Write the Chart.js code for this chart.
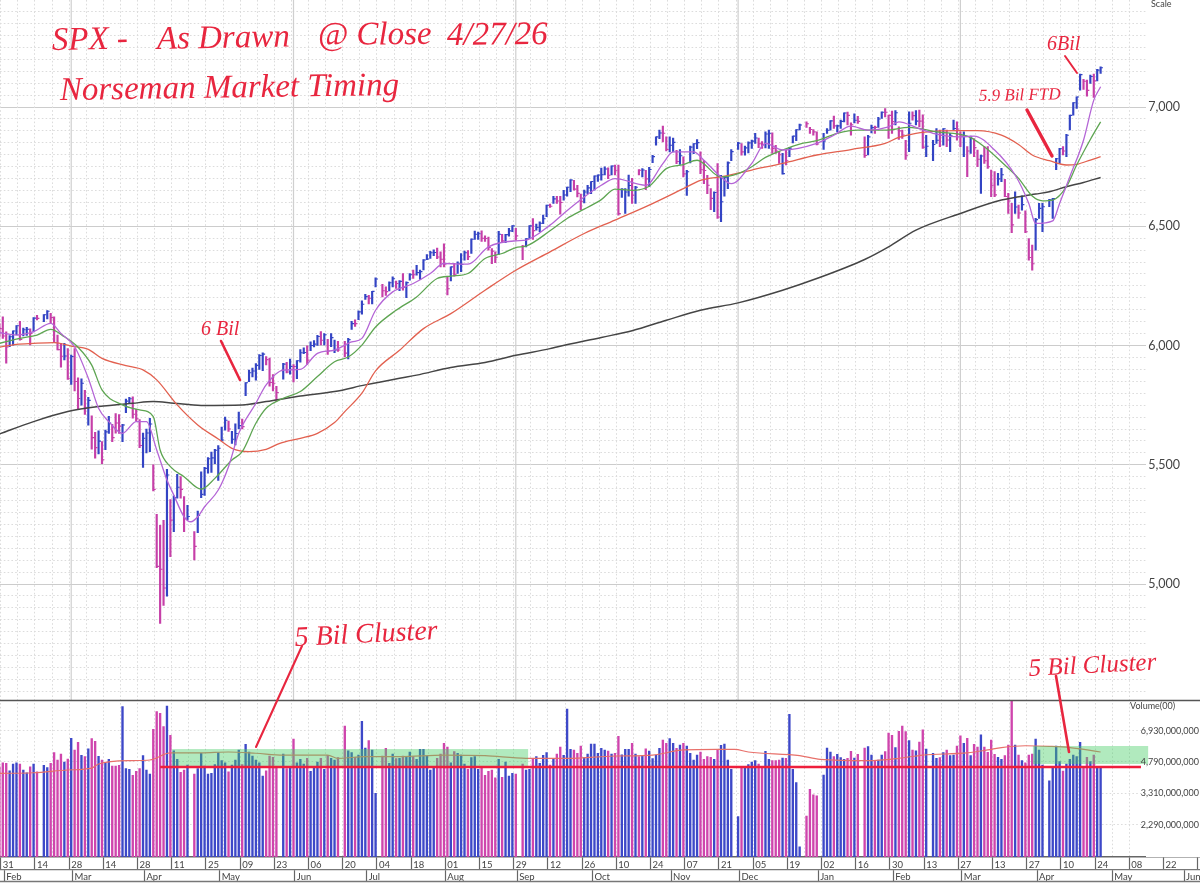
<!DOCTYPE html>
<html><head><meta charset="utf-8">
<style>html,body{margin:0;padding:0;background:#fff;overflow:hidden}#w{position:absolute;left:0;top:0;width:1200px;height:886px}canvas{display:block}</style>
<script src="https://cdn.jsdelivr.net/npm/chart.js@4/dist/chart.umd.min.js"></script>
</head><body><div id="w"><canvas id="c" width="1200" height="886"></canvas></div>
<script>
// every array below starts at slot -1 (30 Jan 2025); one slot per weekday, null on market holidays
const firstSlot=-1;
const highs=[
6090,6120,6058,6042,6062,6084,6101,6073,6076,6070,
6117,6127,null,6130,6147,6135,6120,6044,6009,6009,
5987,5960,5987,5865,5860,5812,5783,5705,5636,5642,
5597,5645,5703,5670,5715,5711,5670,5775,5783,5785,
5732,5690,5633,5650,5695,5500,5292,5246,5267,5481,
5354,5370,5460,5450,5367,5330,null,5220,5306,5470,
5489,5530,5553,5565,5581,5658,5700,5683,5640,5672,
5721,5692,5845,5897,5906,5924,5962,5969,5954,5947,
5878,5829,null,5925,5930,5943,5920,5937,5983,5990,
5999,6016,6021,6043,6059,6050,6026,6050,6023,6018,
null,6018,6030,6101,6108,6146,6187,6215,6211,6227,
6284,null,6257,6246,6267,6288,6270,6272,6302,6267,
6302,6316,6336,6316,6360,6381,6395,6401,6409,6393,
6427,6288,6330,6345,6351,6386,6396,6398,6448,6480,
6476,6481,6460,6455,6407,6393,6479,6466,6466,6491,
6503,6491,null,6420,6449,6503,6532,6509,6519,6547,
6589,6593,6626,6626,6626,6651,6665,6696,6693,6672,
6635,6652,6672,6688,6712,6716,6744,6749,6745,6754,
6757,6757,6658,6658,6715,6701,6668,6738,6742,6735,
6747,6798,6875,6903,6920,6875,6875,6870,6819,6822,
6791,6735,6836,6847,6864,6812,6777,6714,6658,6645,
6763,6714,6707,6770,6822,null,6852,6847,6836,6854,
6862,6890,6870,6855,6896,6904,6892,6840,6813,6806,
6820,6831,6878,6906,6929,null,6938,6915,6906,6896,
null,6890,6910,6943,6962,6925,6945,6976,6979,6934,
6972,6961,null,6875,6882,6925,6920,6957,6980,6994,
6966,6983,6985,6917,6903,6861,6980,6980,6985,6987,
6967,6882,null,6861,6910,6903,6910,6903,6890,6945,
6938,6896,6896,6834,6878,6868,6820,6799,6834,6834,
6736,6729,6722,6743,6697,6638,6596,6645,6589,6628,
6565,6449,6421,6533,6596,6596,null,6613,6617,6785,
6827,6834,6886,6966,7019,7043,7138,7116,7113,7134,
7138,7158,7169];
const lows=[
6035,6030,5926,5995,6002,6046,6022,6040,6042,6003,
6057,6107,null,6100,6112,6093,6012,5982,5909,5940,
5858,5837,5810,5732,5750,5711,5666,5565,5528,5546,
5505,5563,5632,5597,5633,5632,5597,5718,5758,5695,
5683,5572,5489,5550,5555,5390,5069,4835,4910,4949,
5115,5220,5360,5360,5220,5270,null,5101,5215,5362,
5371,5465,5468,5505,5434,5600,5645,5640,5590,5583,
5650,5650,5790,5849,5868,5855,5900,5895,5919,5830,
5810,5767,null,5859,5885,5880,5847,5861,5930,5966,
5921,5978,5994,6000,6003,6003,5963,5995,5970,5975,
null,5952,5944,6068,6080,6108,6132,6193,6175,6175,
6246,null,6204,6210,6229,6246,6240,6230,6232,6201,
6274,6281,6295,6277,6317,6360,6365,6377,6364,6330,
6330,6212,6271,6291,6302,6310,6358,6360,6386,6445,
6445,6437,6437,6400,6343,6347,6382,6432,6431,6459,
6477,6442,null,6360,6414,6449,6445,6484,6477,6511,
6540,6579,6596,6596,6551,6610,6626,6645,6652,6623,
6570,6598,6637,6637,6652,6688,6693,6715,6700,6715,
6716,6547,6621,6554,6626,6596,6596,6716,6707,6654,
6666,6767,6840,6868,6854,6816,6812,6812,6763,6760,
6707,6630,6766,6805,6826,6721,6679,6637,6570,6561,
6533,6519,6626,6658,6775,null,6822,6798,6798,6808,
6827,6848,6830,6827,6829,6827,6806,6806,6764,6719,
6757,6792,6850,6859,6904,null,6915,6890,6882,6841,
null,6822,6890,6903,6910,6896,6910,6938,6925,6882,
6934,6931,null,6789,6799,6892,6890,6915,6952,6959,
6869,6890,6925,6864,6869,6780,6813,6945,6925,6917,
6827,6792,null,6775,6848,6834,6840,6834,6813,6903,
6861,6834,6792,6708,6806,6792,6750,6638,6764,6743,
6624,6624,6673,6687,6624,6554,6473,6554,6533,6568,
6473,6358,6316,6400,6533,6477,null,6582,6533,6738,
6764,6799,6792,6904,6966,6994,7071,7074,7046,7099,
7040,7110,7141];
const closes=[
6071,6040,5994,6037,6061,6083,6026,6066,6068,6051,
6115,6114,null,6129,6144,6117,6013,5983,5955,5956,
5861,5954,5849,5778,5842,5738,5770,5614,5572,5599,
5521,5638,5675,5614,5675,5662,5667,5767,5777,5712,
5693,5581,5611,5633,5671,5397,5074,5062,4983,5457,
5268,5363,5406,5397,5276,5283,null,5158,5287,5376,
5485,5525,5529,5561,5569,5604,5687,5650,5607,5631,
5664,5660,5844,5886,5893,5917,5958,5964,5941,5845,
5842,5803,null,5922,5889,5912,5912,5936,5970,5971,
5939,6000,6006,6038,6022,6045,5977,6033,5982,5981,
null,5968,6025,6092,6092,6141,6173,6205,6198,6227,
6279,null,6230,6226,6263,6280,6260,6269,6244,6264,
6297,6297,6306,6310,6359,6363,6389,6390,6371,6362,
6339,6238,6330,6299,6345,6340,6389,6373,6446,6467,
6469,6450,6449,6411,6396,6370,6467,6439,6465,6481,
6502,6460,null,6416,6448,6502,6482,6495,6513,6532,
6588,6584,6615,6606,6600,6631,6664,6694,6656,6638,
6605,6644,6661,6688,6711,6715,6716,6740,6714,6753,
6735,6553,6655,6644,6671,6630,6664,6735,6736,6699,
6738,6792,6875,6891,6890,6822,6840,6852,6772,6796,
6720,6729,6832,6846,6851,6737,6734,6672,6617,6642,
6539,6603,6705,6766,6813,null,6849,6812,6829,6850,
6857,6870,6846,6841,6887,6890,6827,6816,6800,6721,
6775,6828,6878,6905,6925,null,6930,6906,6896,6845,
null,6858,6903,6942,6921,6921,6940,6975,6965,6926,
6945,6940,null,6797,6875,6914,6915,6950,6978,6978,
6965,6939,6976,6900,6883,6798,6932,6964,6941,6941,
6832,6836,null,6843,6861,6881,6909,6862,6880,6910,
6908,6879,6881,6816,6869,6830,6781,6795,6775,6750,
6672,6632,6699,6716,6625,6606,6506,6581,6556,6591,
6477,6369,6343,6528,6575,6582,null,6611,6616,6783,
6825,6816,6882,6965,7018,7042,7136,7108,7070,7128,
7110,7155,7165];
// daily volume, millions of shares as printed on the axis
const volumes=[
4530,4750,4710,4320,4680,4750,4680,4360,4220,4530,
4680,4270,null,4600,4480,4710,5350,4900,5260,4790,
4960,6330,5520,6040,5180,5100,5600,6310,6110,5120,
4900,4750,4940,4570,4570,4600,9200,4430,4390,4090,
4290,4430,5160,4360,4150,7040,8670,8500,7270,9270,
6560,5470,4940,4240,4360,4620,null,4150,4430,5310,
4570,4150,4190,4640,5350,4870,4750,4270,4620,4900,
5520,4640,5900,5390,5140,4900,4750,4060,4320,5140,
5060,4530,null,5260,4430,4440,6270,4750,4940,4680,
5000,4290,4530,4790,5000,4390,5180,5000,4900,5040,
null,7320,5470,5350,5060,5200,7740,5650,6160,5520,
3310,null,5140,5630,4710,5260,4980,5000,5140,5100,
5390,5100,4940,5560,5560,5140,4360,4440,5000,5260,
5970,5710,4750,5410,5310,5200,4680,4390,5040,5100,
4390,4500,4090,4290,4360,3970,4940,4000,4790,4060,
4190,4150,null,4680,4360,4390,5000,5100,4710,5180,
5350,4620,4940,5260,5710,5180,8950,5560,5520,5310,
5780,5040,5260,5920,5920,5310,5630,5520,5450,5260,
5310,6480,5220,5560,5560,5970,5260,5100,5160,5600,
5450,4980,5200,5630,6210,5970,6310,5970,5630,5850,
5970,5780,5310,4900,5200,5390,4940,5100,5060,4940,
5520,5830,5920,4900,4390,null,2520,4500,4440,4640,
4790,4870,4680,4440,5430,4940,4870,4870,4900,5020,
5000,8400,4390,3760,1760,null,2530,3470,3250,3210,
null,4110,5650,5390,5100,5240,5040,4940,5000,5430,
5020,5240,null,5650,5740,5200,4870,4900,5200,5410,
6740,6560,5680,6880,7320,6850,6160,5520,5470,6060,
6990,5580,null,5310,5000,5040,5350,5520,5160,5200,
5780,6530,5970,6330,5160,5900,5710,6590,5710,5370,
6210,5240,5060,4940,5160,5850,9900,5850,5200,4870,
4750,5200,5260,6270,5520,4620,null,3840,4500,5780,
4810,4300,4680,4940,5200,5100,6040,4440,5060,4810,
5200,4500,4500];
// u = blue up day, d = magenta down day, . = holiday
const upDown=(
"ddduuuduud"+"ud.uuddddu"+"duddududdu"+"duuddduuud"+"dduuuddddu"+
"duuddu.duu"+"uuuuuuuduu"+"uduuuuuudd"+"dd.ududuuu"+"duuududuud"+
".duuduuudu"+"u.dduududu"+"uduuuuuudd"+"dduduuuduu"+"uddddduduu"+
"ud.duuduuu"+"ududduuudd"+"duuuuuuudu"+"dduuududud"+"uuuudduudu"+
"duuuuddddu"+"duuuu.uduu"+"uudduudddu"+"duuuu.dddd"+".uuuduuudd"+
"ud.duuduud"+"ddudddudud"+"du.uududuu"+"ddududdudd"+"dduudddudu"+
"ddduuu.uuu"+"uduuuuuddu"+"duu");

// moving averages, read at the slots listed
const ma200Slots=[-1,9,19,28,38,44,50,58,70,77,87,97,106,116,121,131,141,150,160,162,175,184,194,204,215,228,238,252,259,267,280,292,302,306,311,316,321];
const ma200Values=[5629,5681,5723,5744,5758,5765,5758,5749,5751,5765,5788,5807,5835,5863,5876,5908,5929,5959,5987,5994,6034,6062,6106,6148,6179,6232,6281,6361,6414,6484,6554,6610,6635,6645,6666,6684,6705];
const ma50Slots=[-1,4,9,15,20,25,29,36,41,45,51,57,63,67,72,77,81,87,92,97,100,105,109,116,123,131,141,150,160,170,179,189,199,204,211,219,228,238,248,258,262,267,273,280,285,292,297,301,306,311,314,318,321];
const ma50Values=[5993,6005,6009,6012,5998,5984,5946,5916,5898,5856,5751,5667,5608,5569,5555,5565,5590,5611,5632,5677,5723,5800,5894,5980,6071,6134,6232,6316,6393,6470,6526,6589,6658,6693,6710,6736,6764,6799,6822,6848,6873,6890,6899,6901,6901,6882,6843,6799,6775,6757,6760,6778,6792];
const ma21Slots=[-1,5,10,14,18,22,26,29,35,40,44,46,49,53,58,62,67,70,74,77,82,87,92,97,101,105,109,115,121,127,131,136,141,146,150,153,160,165,170,175,179,184,189,194,199,203,210,215,219,223,228,233,238,244,250,258,265,273,282,287,293,297,301,304,307,311,314,318,321];
const ma21Values=[6009,6030,6044,6068,6037,5993,5918,5814,5751,5730,5702,5562,5492,5450,5398,5443,5520,5555,5674,5737,5779,5807,5870,5932,5952,6002,6078,6148,6204,6281,6291,6302,6365,6386,6411,6417,6481,6533,6572,6612,6656,6651,6668,6742,6759,6777,6707,6721,6750,6789,6820,6845,6859,6890,6903,6903,6915,6896,6878,6834,6757,6701,6627,6607,6610,6666,6757,6864,6938];
const ma10Slots=[-1,4,9,14,17,21,25,28,31,35,39,42,45,48,50,53,55,57,59,63,66,69,74,77,82,87,92,97,102,105,109,114,120,125,129,136,142,150,153,160,164,170,175,179,188,193,196,202,205,210,213,219,223,228,238,243,248,253,259,262,267,272,280,284,290,296,300,302,307,309,312,316,319,321];
const ma10Values=[6054,6044,6058,6093,6051,5995,5863,5737,5681,5632,5681,5681,5562,5436,5373,5282,5261,5282,5324,5394,5492,5632,5758,5835,5897,5900,5967,5981,6015,6030,6148,6225,6260,6302,6344,6341,6414,6439,6442,6505,6554,6623,6672,6700,6672,6763,6812,6812,6777,6707,6679,6764,6848,6820,6848,6882,6920,6903,6917,6938,6915,6890,6875,6878,6820,6715,6596,6512,6523,6596,6708,6861,7029,7085];
const volMaSlots=[-1,9,19,26,28,38,43,49,58,66,74,82,95,98,106,116,129,141,153,165,179,190,199,209,214,218,233,239,253,262,269,282,288,292,299,306,312,321];
const volMaValues=[4190,4220,4360,4460,4680,4870,4905,5330,5330,5390,5310,5200,5200,5000,5100,5100,5200,5160,5000,5000,5140,5200,5520,5560,5560,5390,5160,4940,4865,5000,5200,5330,5520,5680,5800,5760,5680,5390];

const priceTicks=[];for(let p=4550;p<=7400;p+=50)priceTicks.push(p);
const priceLabelled=[5000,5500,6000,6500,7000];
const volumeTicks=[6930,4790,3310,2290];
const volumeTickLabels=["6,930,000,000","4,790,000,000","3,310,000,000","2,290,000,000"];
const dateTickLabels=["31","14","28","14","28","11","25","09","23","06","20","04","18","01","15","29","12","26","10","24","07","21","05","19","02","16","30","13","27","13","27","10","24","08","22","05"];
const monthLabels=["Feb","Mar","Apr","May","Jun","Jul","Aug","Sep","Oct","Nov","Dec","Jan","Feb","Mar","Apr","May","Jun"];
const monthSlots=[1,21,42,64,86,107,130,151,173,196,216,239,261,281,303,325,346];
const majorGridSlots=[20,85,150,215,280];
const clusterBands=[{from:49.5,to:153.6,lo:4570,hi:5580},{from:301.2,to:334.9,lo:4680,hi:5785}];
const clusterLine={from:46,to:332.8,value:4515};

const slotOf=i=>i+firstSlot;
const BLUE="#3344c4",PINK="#c63fa8",VBLUE="#3d48c8",VPINK="#cf45ad";
const tickOffset=-0.6, xMin=-0.82, xMax=350.06;
const pts=(xs,ys)=>xs.map((x,i)=>({x,y:ys[i]}));
const lineDs=(label,xs,ys,color,w,yAxisID,order)=>({type:"line",label,data:pts(xs,ys),borderColor:color,borderWidth:w,pointRadius:0,cubicInterpolationMode:"monotone",yAxisID,xAxisID:"x",order});

const overlay={id:"overlay",
 beforeDatasetsDraw(ch){
  const c=ch.ctx,a=ch.chartArea,x=ch.scales.x,p=ch.scales.y;
  c.save();c.strokeStyle="#cfcfcf";c.lineWidth=1.2;
  majorGridSlots.forEach(s=>{const px=x.getPixelForValue(s);c.beginPath();c.moveTo(px,p.top);c.lineTo(px,p.bottom);c.stroke();});
  c.fillStyle="#fff";c.fillRect(1146,a.top,a.right-1146,a.bottom-a.top);
  c.restore();
 },
 afterDatasetsDraw(ch){
  const c=ch.ctx,x=ch.scales.x,v=ch.scales.yVol,p=ch.scales.y;
  c.save();
  c.fillStyle="rgba(70,205,100,0.42)";
  clusterBands.forEach(b=>{const l=x.getPixelForValue(b.from),r=x.getPixelForValue(b.to),t=v.getPixelForValue(b.hi),u=v.getPixelForValue(b.lo);c.fillRect(l,t,r-l,u-t);});
  c.strokeStyle="#ee1f3c";c.lineWidth=2.6;
  c.beginPath();c.moveTo(x.getPixelForValue(clusterLine.from),v.getPixelForValue(clusterLine.value));c.lineTo(x.getPixelForValue(clusterLine.to),v.getPixelForValue(clusterLine.value));c.stroke();
  // panel frame
  c.strokeStyle="#555";c.lineWidth=1.6;
  c.beginPath();c.moveTo(0,p.bottom);c.lineTo(1200,p.bottom);c.stroke();
  const m=ch.scales.xMonth;
  c.strokeStyle="#777";c.lineWidth=1.4;
  c.beginPath();c.moveTo(0,m.bottom);c.lineTo(1200,m.bottom);c.stroke();
  // panel captions
  c.fillStyle="#444";c.font="9px Lato";c.textAlign="left";c.textBaseline="top";
  c.fillText("Scale",1151,0);
  c.fillText("Volume(00)",1130,702);
  // hand-drawn strokes
  c.strokeStyle="#e8263f";c.lineCap="round";
  [[221,341,240,380,2.6],[1065,56,1077,73,2],[1027,110,1052,156,3.4],[302,646,256,747,2.1],[1056,676,1069,752,2.6]].forEach(s=>{c.lineWidth=s[4];c.beginPath();c.moveTo(s[0],s[1]);c.lineTo(s[2],s[3]);c.stroke();});
  // hand-written notes
  c.fillStyle="#e8263f";c.textBaseline="alphabetic";
  const note=(t,x0,y0,font,rot)=>{c.save();c.translate(x0,y0);c.rotate(rot||0);c.font=font;c.fillText(t,0,0);c.restore();};
  const F='italic 33px "Liberation Serif"';
  note("SPX -",52,50,F,-0.02);
  note("As Drawn",157,49,F,-0.02);
  note("@ Close",318,45,F,-0.01);
  note("4/27/26",447,45,F,-0.01);
  note("Norseman Market Timing",60,100,'italic 33px "Liberation Serif"',-0.015);
  note("6 Bil",201,335,'italic 20px "Liberation Serif"');
  note("6Bil",1047,50,'italic 20px "Liberation Serif"');
  note("5.9 Bil FTD",979,101,'italic 17px "Liberation Serif"',-0.02);
  note("5 Bil Cluster",295,646,'italic 28px "Liberation Serif"',-0.05);
  note("5 Bil Cluster",1029,676,'italic 25px "Liberation Serif"',-0.05);
  c.restore();
 }};

new Chart(document.getElementById("c"),{
 plugins:[overlay],
 data:{datasets:[
  lineDs("10-day MA",ma10Slots,ma10Values,"#b465d6",1.3,"y",1),
  lineDs("21-day MA",ma21Slots,ma21Values,"#5ea552",1.3,"y",2),
  lineDs("50-day MA",ma50Slots,ma50Values,"#e2604f",1.3,"y",3),
  lineDs("200-day MA",ma200Slots,ma200Values,"#454545",1.5,"y",4),
  {type:"line",label:"Close",yAxisID:"y",xAxisID:"x",order:5,showLine:false,pointStyle:"dash",pointRadius:2.4,pointBorderWidth:1.1,
   pointBorderColor:c=>upDown[c.dataIndex]==="u"?BLUE:PINK,
   data:closes.map((v,i)=>({x:slotOf(i),y:v}))},
  {type:"bar",label:"SPX range",yAxisID:"y",xAxisID:"x",order:6,grouped:false,barThickness:1.5,
   backgroundColor:c=>upDown[c.dataIndex]==="u"?BLUE:PINK,
   data:highs.map((h,i)=>({x:slotOf(i),y:h===null?null:[lows[i],h]}))},
  lineDs("Volume 50-day MA",volMaSlots,volMaValues,"#e8706a",1.2,"yVol",7),
  {type:"bar",label:"Volume",yAxisID:"yVol",xAxisID:"x",order:8,grouped:false,barThickness:1.7,
   backgroundColor:c=>upDown[c.dataIndex]==="u"?VBLUE:VPINK,
   data:volumes.map((v,i)=>({x:slotOf(i),y:v===null?null:[1563,v]}))}
 ]},
 options:{responsive:false,animation:false,maintainAspectRatio:false,devicePixelRatio:1,
  layout:{autoPadding:false,padding:{left:0,right:0,top:0,bottom:4.5}},
  plugins:{legend:{display:false},tooltip:{enabled:false},title:{display:false}},
  parsing:true,
  scales:{
   y:{type:"linear",position:"right",stack:"p",stackWeight:700.5,min:4511.5,max:7449,
    afterBuildTicks(s){s.ticks=priceTicks.map(v=>({value:v}));},
    afterFit(s){s.width=0;s.paddingTop=0;s.paddingBottom=0;},
    ticks:{mirror:true,padding:-20,z:1,autoSkip:false,color:"#444",font:{family:"Lato",size:12.5},
     callback:v=>priceLabelled.includes(v)?v.toLocaleString("en-US"):""},
    grid:{drawTicks:false,color:c=>c.tick&&priceLabelled.includes(c.tick.value)?"#cccccc":"#dcdcdc",lineWidth:1},
    border:{display:false,dash:c=>c.tick&&priceLabelled.includes(c.tick.value)?[]:[1.6,2.2]}},
   yVol:{type:"logarithmic",position:"right",stack:"p",stackWeight:156.5,min:1563,max:9890,
    afterBuildTicks(s){s.ticks=volumeTicks.map(v=>({value:v}));},
    afterFit(s){s.width=0;s.paddingTop=0;s.paddingBottom=0;},
    ticks:{mirror:true,padding:-1,z:1,autoSkip:false,color:"#444",font:{family:"Lato",size:9},
     callback:v=>volumeTickLabels[volumeTicks.indexOf(v)]||""},
    grid:{drawTicks:false,color:"#dcdcdc",lineWidth:1},
    border:{display:false,dash:[1.6,2.2]}},
   x:{type:"linear",position:"bottom",min:xMin,max:xMax,offset:false,
    afterBuildTicks(s){const t=[];for(let k=0;k<=70;k++)t.push({value:5*k+tickOffset});s.ticks=t;},
    afterFit(s){s.height=13;s.paddingLeft=0;s.paddingRight=0;},
    ticks:{autoSkip:false,maxRotation:0,minRotation:0,align:"start",padding:-11,labelOffset:2,color:"#444",font:{family:"Lato",size:9.5},
     callback:(v,i)=>i%2===0?(dateTickLabels[i/2]||""):""},
    grid:{offset:false,drawOnChartArea:true,drawTicks:true,tickLength:13,tickWidth:1.2,color:"#dcdcdc",tickColor:c=>c.index%2===0?"#666":"rgba(0,0,0,0)"},
    border:{display:true,color:"#666",width:1.4,dash:[1.6,2.2]}},
   xMonth:{type:"linear",position:"bottom",min:xMin,max:xMax,offset:false,
    afterBuildTicks(s){s.ticks=monthSlots.map(v=>({value:v+tickOffset}));},
    afterFit(s){s.height=11.5;s.paddingLeft=0;s.paddingRight=0;},
    ticks:{autoSkip:false,maxRotation:0,minRotation:0,align:"start",padding:-10.5,labelOffset:2,color:"#444",font:{family:"Lato",size:9.5},
     callback:(v,i)=>monthLabels[i]||""},
    grid:{offset:false,drawOnChartArea:false,drawTicks:true,tickLength:11.5,tickWidth:1.2,tickColor:"#666"},
    border:{display:true,color:"#777",width:1.2}}
  }}
});
</script></body></html>
